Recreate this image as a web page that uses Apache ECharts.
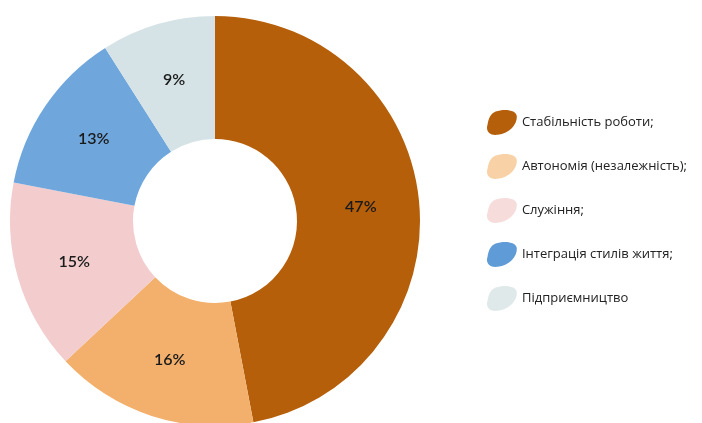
<!DOCTYPE html>
<html>
<head>
<meta charset="utf-8">
<script src="https://cdn.jsdelivr.net/npm/echarts@6/dist/echarts.min.js"></script>
<style>
  html, body { margin: 0; padding: 0; background: #fff; }
  #chart { width: 702px; height: 423px; }
</style>
</head>
<body>
<div id="chart"></div>
<script>
// дані діаграми
var categories = ['Стабільність роботи;', 'Автономія (незалежність);', 'Служіння;', 'Інтеграція стилів життя;', 'Підприємництво'];
var values = [47, 16, 15, 13, 9];
var sliceColors = ['#b55f0a', '#f2b06c', '#f3cdcd', '#6fa7dd', '#d5e3e6'];
var legendColors = ['#b55f0a', '#f8d2a6', '#f7dcdc', '#5f9bd6', '#e0e9ea'];

// мазок пензля для легенди
var blob = 'path://M9,2 C17,-1 30,0 30,7 C30,15 23,23 11,25 C3,26 -1,21 1,15 C2,9 4,4 9,2 Z';

var chart = echarts.init(document.getElementById('chart'));
var data = categories.map(function (name, i) {
  return {
    name: name,
    value: values[i],
    itemStyle: { color: sliceColors[i] }
  };
});

var option = {
  backgroundColor: '#fff',
  animation: false,
  legend: {
    orient: 'vertical',
    left: 482,
    top: 105,
    itemWidth: 30,
    itemHeight: 25,
    itemGap: 19,
    icon: blob,
    selectedMode: false,
    textStyle: { fontFamily: 'Open Sans', fontSize: 13, color: '#222' },
    data: categories.map(function (name, i) {
      return { name: name, itemStyle: { color: legendColors[i] } };
    })
  },
  series: [
    {
      type: 'pie',
      center: [215, 221],
      radius: [82, 205],
      startAngle: 90,
      clockwise: true,
      avoidLabelOverlap: false,
      label: {
        show: true,
        position: 'inside',
        formatter: '{c}%',
        fontFamily: 'Lato',
        fontSize: 16,
        fontWeight: 600,
        color: '#1a1a1a'
      },
      labelLine: { show: false },
      itemStyle: { borderWidth: 0 },
      data: data
    }
  ]
};
chart.setOption(option);
</script>
</body>
</html>
